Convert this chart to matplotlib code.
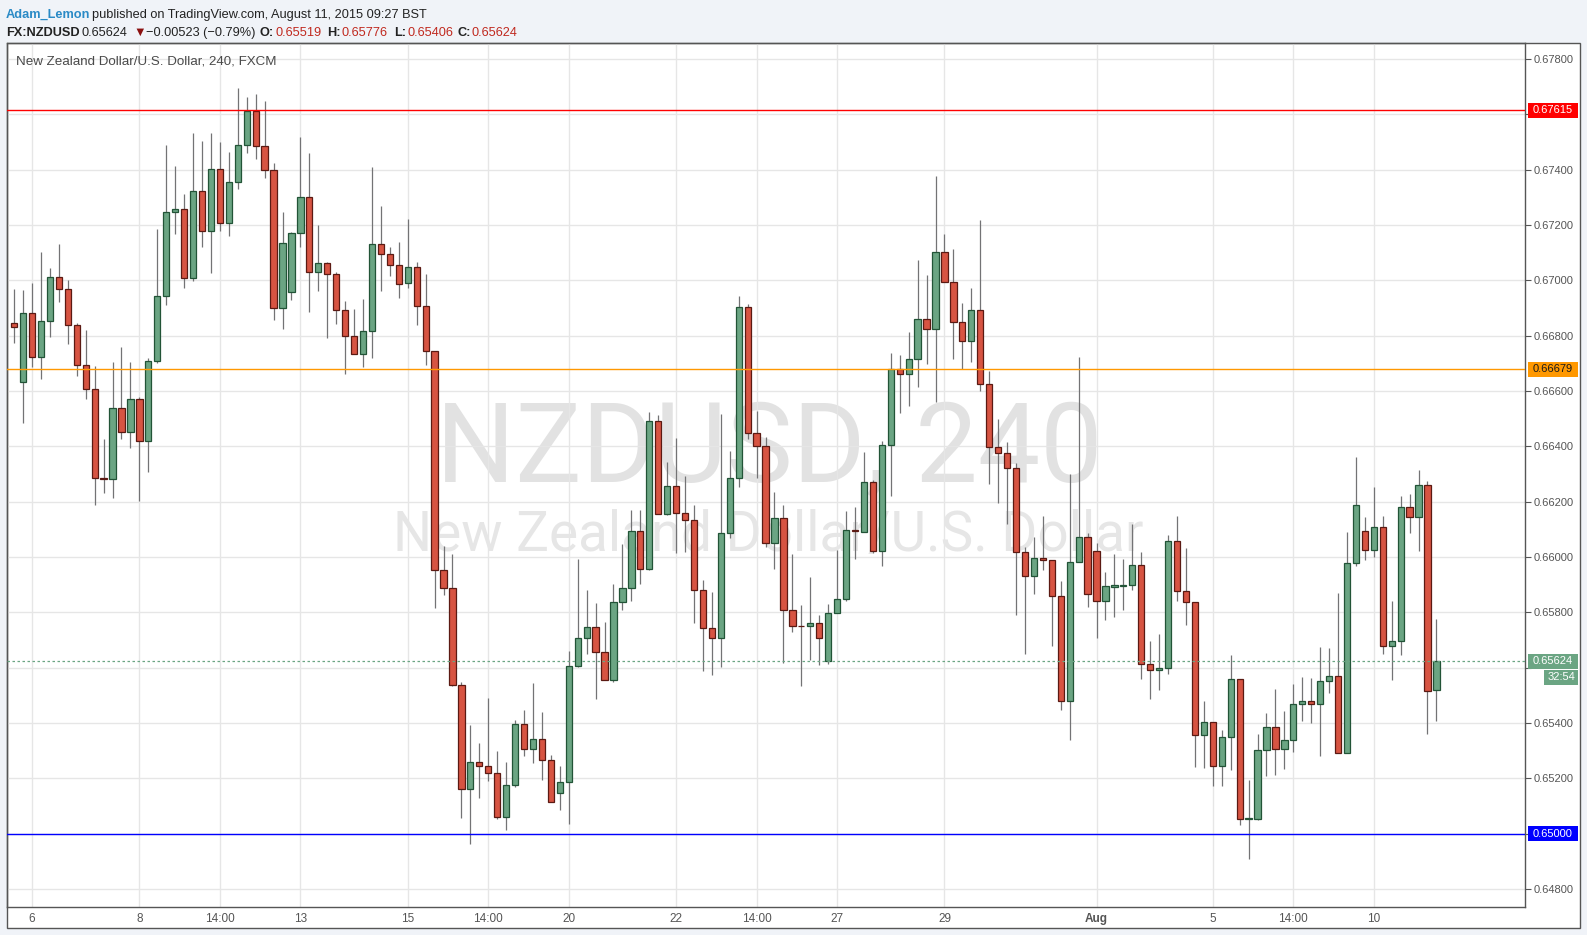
import numpy as np
import matplotlib
matplotlib.use("Agg")
import matplotlib.pyplot as plt
from matplotlib.patches import Rectangle
from matplotlib.transforms import blended_transform_factory

W, H = 1587, 935

# 4H candles, NZDUSD (FXCM), Jul 3 - Aug 11 2015
opens = [0.66845, 0.66631, 0.66881, 0.66722, 0.66852, 0.67011, 0.66967, 0.66837, 0.66693, 0.66606,
         0.66286, 0.66281, 0.66537, 0.66451, 0.66570, 0.66418, 0.66707, 0.66942, 0.67246, 0.67257,
         0.67007, 0.67322, 0.67177, 0.67401, 0.67206, 0.67354, 0.67488, 0.67611, 0.67484, 0.67398,
         0.66899, 0.66957, 0.67170, 0.67300, 0.67029, 0.67061, 0.67022, 0.66892, 0.66798, 0.66735,
         0.66816, 0.67130, 0.67094, 0.67054, 0.66990, 0.67047, 0.66909, 0.66743, 0.65952, 0.65887,
         0.65539, 0.65162, 0.65258, 0.65245, 0.65219, 0.65060, 0.65177, 0.65397, 0.65306, 0.65342,
         0.65266, 0.65147, 0.65186, 0.65606, 0.65708, 0.65747, 0.65657, 0.65555, 0.65837, 0.65888,
         0.66094, 0.65957, 0.66492, 0.66155, 0.66257, 0.66159, 0.66135, 0.65881, 0.65743, 0.65707,
         0.66087, 0.66286, 0.66904, 0.66448, 0.66401, 0.66051, 0.66141, 0.65807, 0.65752, 0.65750,
         0.65760, 0.65623, 0.65796, 0.65847, 0.66096, 0.66091, 0.66270, 0.66023, 0.66404, 0.66680,
         0.66661, 0.66715, 0.66861, 0.66824, 0.67103, 0.66994, 0.66850, 0.66781, 0.66892, 0.66625,
         0.66397, 0.66375, 0.66321, 0.66018, 0.65931, 0.65996, 0.65989, 0.65859, 0.65479, 0.65982,
         0.66071, 0.66022, 0.65841, 0.65893, 0.65896, 0.65898, 0.65971, 0.65614, 0.65591, 0.65600,
         0.66058, 0.65878, 0.65839, 0.65358, 0.65405, 0.65246, 0.65351, 0.65560, 0.65054, 0.65054,
         0.65304, 0.65387, 0.65307, 0.65340, 0.65470, 0.65481, 0.65470, 0.65553, 0.65571, 0.65293,
         0.65980, 0.66095, 0.66027, 0.66108, 0.65678, 0.65696, 0.66181, 0.66145, 0.66261, 0.65519]
highs = [0.66969, 0.66965, 0.66990, 0.67102, 0.67045, 0.67131, 0.67001, 0.66845, 0.66820, 0.66690,
         0.66427, 0.66705, 0.66760, 0.66705, 0.66578, 0.66718, 0.67186, 0.67489, 0.67413, 0.67312,
         0.67533, 0.67504, 0.67533, 0.67500, 0.67464, 0.67695, 0.67663, 0.67673, 0.67648, 0.67424,
         0.67247, 0.67174, 0.67518, 0.67460, 0.67200, 0.67067, 0.67031, 0.66925, 0.66896, 0.66933,
         0.67410, 0.67269, 0.67120, 0.67139, 0.67222, 0.67066, 0.67023, 0.66743, 0.66040, 0.66011,
         0.65549, 0.65394, 0.65329, 0.65492, 0.65300, 0.65258, 0.65411, 0.65447, 0.65546, 0.65439,
         0.65283, 0.65245, 0.65662, 0.65994, 0.65879, 0.65834, 0.65765, 0.65904, 0.66048, 0.66171,
         0.66171, 0.66525, 0.66514, 0.66345, 0.66431, 0.66294, 0.66189, 0.65918, 0.65872, 0.66518,
         0.66383, 0.66942, 0.66914, 0.66529, 0.66435, 0.66234, 0.66189, 0.66010, 0.65826, 0.65927,
         0.65790, 0.65829, 0.66025, 0.66167, 0.66180, 0.66380, 0.66278, 0.66418, 0.66738, 0.66731,
         0.66814, 0.67075, 0.67020, 0.67376, 0.67169, 0.67115, 0.66918, 0.66972, 0.67219, 0.66672,
         0.66499, 0.66416, 0.66339, 0.66037, 0.66073, 0.66149, 0.65989, 0.65912, 0.66300, 0.66723,
         0.66088, 0.66049, 0.65947, 0.66012, 0.65994, 0.66120, 0.66018, 0.65695, 0.65723, 0.66081,
         0.66149, 0.66031, 0.65839, 0.65478, 0.65405, 0.65373, 0.65645, 0.65560, 0.65193, 0.65359,
         0.65437, 0.65522, 0.65442, 0.65540, 0.65565, 0.65561, 0.65673, 0.65670, 0.65869, 0.66089,
         0.66360, 0.66143, 0.66254, 0.66149, 0.65842, 0.66220, 0.66229, 0.66316, 0.66275, 0.65776]
lows = [0.66775, 0.66486, 0.66688, 0.66645, 0.66796, 0.66923, 0.66771, 0.66655, 0.66572, 0.66189,
        0.66233, 0.66214, 0.66427, 0.66395, 0.66204, 0.66308, 0.66702, 0.66912, 0.67169, 0.66974,
        0.66999, 0.67122, 0.67028, 0.67180, 0.67161, 0.67331, 0.67461, 0.67440, 0.67371, 0.66858,
        0.66825, 0.66930, 0.67122, 0.66887, 0.66963, 0.66793, 0.66843, 0.66663, 0.66733, 0.66688,
        0.66720, 0.66963, 0.67017, 0.66937, 0.66974, 0.66840, 0.66694, 0.65816, 0.65863, 0.65533,
        0.65055, 0.64964, 0.65128, 0.65191, 0.65052, 0.65015, 0.65168, 0.65280, 0.65254, 0.65193,
        0.65115, 0.65087, 0.65034, 0.65601, 0.65649, 0.65487, 0.65555, 0.65547, 0.65807, 0.65840,
        0.65901, 0.65952, 0.66155, 0.66151, 0.66013, 0.66017, 0.65760, 0.65587, 0.65572, 0.65601,
        0.66067, 0.66252, 0.66425, 0.66284, 0.66036, 0.65957, 0.65617, 0.65730, 0.65535, 0.65629,
        0.65610, 0.65614, 0.65796, 0.65840, 0.65991, 0.66091, 0.66015, 0.65969, 0.66222, 0.66519,
        0.66547, 0.66616, 0.66697, 0.66562, 0.66994, 0.66715, 0.66680, 0.66703, 0.66599, 0.66264,
        0.66196, 0.66120, 0.65789, 0.65649, 0.65865, 0.65953, 0.65677, 0.65446, 0.65340, 0.65982,
        0.65821, 0.65708, 0.65774, 0.65782, 0.65810, 0.65880, 0.65558, 0.65486, 0.65518, 0.65576,
        0.65840, 0.65754, 0.65241, 0.65237, 0.65172, 0.65172, 0.65230, 0.65031, 0.64907, 0.65048,
        0.65208, 0.65212, 0.65234, 0.65295, 0.65407, 0.65399, 0.65281, 0.65508, 0.65293, 0.65293,
        0.65968, 0.65989, 0.65999, 0.65648, 0.65554, 0.65645, 0.66086, 0.66021, 0.65359, 0.65406]
closes = [0.66833, 0.66881, 0.66722, 0.66852, 0.67011, 0.66967, 0.66837, 0.66693, 0.66606, 0.66286,
          0.66283, 0.66537, 0.66451, 0.66570, 0.66418, 0.66707, 0.66942, 0.67246, 0.67257, 0.67007,
          0.67322, 0.67177, 0.67401, 0.67206, 0.67354, 0.67488, 0.67611, 0.67484, 0.67398, 0.66899,
          0.67134, 0.67170, 0.67300, 0.67029, 0.67061, 0.67022, 0.66892, 0.66798, 0.66735, 0.66816,
          0.67130, 0.67094, 0.67054, 0.66986, 0.67047, 0.66909, 0.66743, 0.65952, 0.65887, 0.65539,
          0.65162, 0.65258, 0.65245, 0.65219, 0.65060, 0.65177, 0.65397, 0.65306, 0.65342, 0.65266,
          0.65115, 0.65186, 0.65606, 0.65708, 0.65747, 0.65657, 0.65555, 0.65837, 0.65888, 0.66094,
          0.65957, 0.66492, 0.66155, 0.66257, 0.66159, 0.66135, 0.65881, 0.65743, 0.65707, 0.66087,
          0.66286, 0.66904, 0.66448, 0.66401, 0.66051, 0.66141, 0.65807, 0.65752, 0.65750, 0.65760,
          0.65706, 0.65796, 0.65847, 0.66096, 0.66094, 0.66270, 0.66023, 0.66404, 0.66680, 0.66661,
          0.66715, 0.66861, 0.66824, 0.67103, 0.66994, 0.66850, 0.66781, 0.66892, 0.66626, 0.66397,
          0.66375, 0.66321, 0.66018, 0.65931, 0.65996, 0.65989, 0.65859, 0.65479, 0.65982, 0.66071,
          0.65865, 0.65841, 0.65895, 0.65897, 0.65898, 0.65971, 0.65614, 0.65591, 0.65600, 0.66058,
          0.65878, 0.65839, 0.65358, 0.65405, 0.65246, 0.65351, 0.65560, 0.65054, 0.65056, 0.65304,
          0.65387, 0.65307, 0.65340, 0.65470, 0.65481, 0.65470, 0.65553, 0.65571, 0.65293, 0.65980,
          0.66189, 0.66027, 0.66108, 0.65678, 0.65696, 0.66181, 0.66145, 0.66261, 0.65516, 0.65624]

tick_idx = [2, 14, 23, 32, 44, 53, 62, 74, 83, 92, 104, 121, 134, 143, 152]
tick_lbl = ['6', '8', '14:00', '13', '15', '14:00', '20', '22', '14:00', '27', '29', 'Aug', '5', '14:00', '10']
price_ticks = np.arange(0.648, 0.6781, 0.002)

levels = [0.67615, 0.66679, 0.65000]
level_colors = ['#ff0000', '#ff9800', '#0000ff']
level_text = ['white', '#1a1a1a', 'white']
last_price = 0.65624
countdown = '32:54'

UP, UP_EDGE = '#6ba583', '#225437'
DN, DN_EDGE = '#d75442', '#5b1a13'
WICK = '#737375'
GRID = '#e6e6e6'
AXC = '#555555'

plt.rcParams['font.family'] = ['Liberation Sans', 'DejaVu Sans']


def fx(x):
    return x / W


def fy(y):
    return 1 - y / H


fig = plt.figure(figsize=(W / 100, H / 100), dpi=100, facecolor='#f0f3f8')
fig.patches.append(Rectangle((fx(7), fy(928)), fx(1580) - fx(7), fy(43) - fy(928),
                             transform=fig.transFigure, facecolor='white',
                             edgecolor=AXC, lw=1, zorder=-2))

ax = fig.add_axes([fx(7), fy(907), fx(1525) - fx(7), fy(43) - fy(907)])
ax.patch.set_alpha(0)
ymin, ymax = 0.647349, 0.678578
ax.set_xlim(-0.8, 168.9)
ax.set_ylim(ymin, ymax)
px = (ymax - ymin) / 864.0

# watermark (behind the axes content)
fig.text(fx(769), fy(482), 'NZDUSD, 240', fontsize=80, color='#e2e2e2',
         ha='center', va='baseline', zorder=-1, family=['Roboto', 'DejaVu Sans'])
fig.text(fx(768), fy(551), 'New Zealand Dollar/U.S. Dollar', fontsize=39.5, color='#e6e6e6',
         ha='center', va='baseline', zorder=-1, family=['Roboto', 'DejaVu Sans'])

# candles
x = np.arange(len(opens))
o, hi, lo, c = map(np.array, (opens, highs, lows, closes))
up = c >= o
ax.vlines(x, lo, hi, color=WICK, lw=0.9, zorder=3)
bot = np.minimum(o, c)
hgt = np.maximum(np.abs(c - o), 0.00002)
ax.bar(x[up], hgt[up], bottom=bot[up], width=0.7, color=UP, edgecolor=UP_EDGE, lw=0.9, zorder=4)
ax.bar(x[~up], hgt[~up], bottom=bot[~up], width=0.7, color=DN, edgecolor=DN_EDGE, lw=0.9, zorder=4)

# drawn levels
for lv, col in zip(levels, level_colors):
    ax.axhline(lv, color=col, lw=1, zorder=5)
ax.axhline(last_price, color=UP, lw=0.9, ls=(0, (2, 2)), zorder=5)

# axes styling
ax.set_xticks(tick_idx)
ax.set_xticklabels(tick_lbl)
for t in ax.get_xticklabels():
    if t.get_text() == 'Aug':
        t.set_fontweight('bold')
hidden = (0.676, 0.656, 0.650)
ax.set_yticks(price_ticks)
ax.set_yticklabels(['' if any(abs(p - hv) < 1e-6 for hv in hidden) else '%.5f' % p
                    for p in price_ticks])
ax.yaxis.tick_right()
ax.tick_params(axis='x', length=0, pad=4, labelsize=8.5, labelcolor=AXC)
ax.tick_params(axis='y', length=4, width=0.8, color=AXC, pad=2, labelsize=8, labelcolor=AXC)
ax.grid(True, color=GRID, lw=1, zorder=1)
ax.set_axisbelow(True)
for s in ax.spines.values():
    s.set_color(AXC)
    s.set_linewidth(1)

# price labels on the scale
tr = blended_transform_factory(ax.transAxes, ax.transData)
axw = 1525 - 7


def price_box(yc, text, fc, tc, x0=1528, x1=1578, h=15):
    a0 = (x0 - 7) / axw
    a1 = (x1 - 7) / axw
    ax.add_patch(Rectangle((a0, yc - h / 2 * px), a1 - a0, h * px, transform=tr,
                           facecolor=fc, edgecolor='none', clip_on=False, zorder=6))
    ax.text((a0 + a1) / 2, yc, text, transform=tr, ha='center', va='center',
            fontsize=8, color=tc, clip_on=False, zorder=7)


for lv, col, tc in zip(levels, level_colors, level_text):
    price_box(lv, '%.5f' % lv, col, tc)
price_box(last_price, '%.5f' % last_price, UP, 'white')
price_box(last_price - 16 * px, countdown, UP, 'white', x0=1544)

# chart title inside the pane
fig.text(fx(16), fy(61), 'New Zealand Dollar/U.S. Dollar, 240, FXCM', fontsize=9.6,
         color='#4a4a4a', ha='left', va='center')

# header
fs = 9.2
line1 = [(6, 'Adam_Lemon', '#2a8ac6', 'bold'),
         (92, 'published on TradingView.com, August 11, 2015 09:27 BST', '#222222', 'normal')]
line2 = [(6, 'FX:NZDUSD', '#222222', 'bold'),
         (81, '0.65624', '#222222', 'normal'),
         (133, '\u25bc', '#8b1010', 'normal'),
         (146, '\u22120.00523 (\u22120.79%)', '#222222', 'normal'),
         (260, 'O:', '#222222', 'bold'), (275, '0.65519', '#c0281e', 'normal'),
         (327, 'H:', '#222222', 'bold'), (342, '0.65776', '#c0281e', 'normal'),
         (394, 'L:', '#222222', 'bold'), (407, '0.65406', '#c0281e', 'normal'),
         (458, 'C:', '#222222', 'bold'), (471, '0.65624', '#c0281e', 'normal')]
for yb, parts in ((18, line1), (36, line2)):
    for xp, text, col, wt in parts:
        fig.text(fx(xp), fy(yb), text, fontsize=fs, color=col, weight=wt, va='baseline')

fig.savefig('out.png', dpi=100, facecolor=fig.get_facecolor())
